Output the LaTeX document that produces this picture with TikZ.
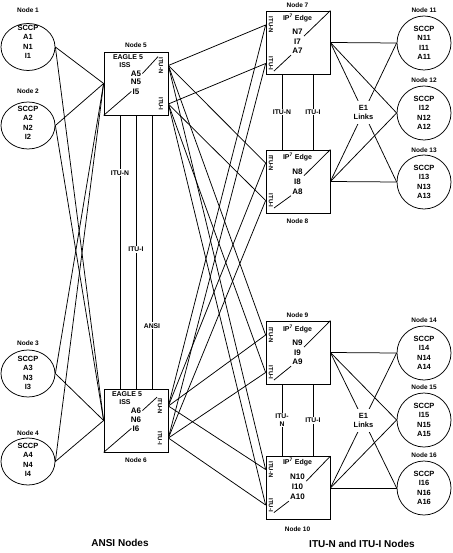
\documentclass[tikz,border=0pt]{standalone}
\usepackage{fontspec}
\setmainfont{Liberation Sans}
\usetikzlibrary{shapes.geometric}

\tikzset{
	sccp/.style={draw, ellipse, minimum width=54pt, minimum height=47pt, inner sep=0pt},
	sccpc/.style={draw, circle, minimum size=54pt, inner sep=0pt, align=center, font=\bfseries\fontsize{7.5}{9.3}\selectfont},
	sccptxt/.style={align=center, inner sep=0pt, font=\bfseries\fontsize{7.5}{9.3}\selectfont},
	nodename/.style={inner sep=0pt, font=\bfseries\fontsize{6.5}{7}\selectfont},
	stp/.style={draw, minimum width=64pt, minimum height=63pt, inner sep=0pt},
	stptxt/.style={inner sep=1pt, font=\bfseries\fontsize{8}{9}\selectfont},
	edgetxt/.style={inner sep=1pt, font=\bfseries\fontsize{7}{8}\selectfont},
	port/.style={rotate=-90, inner sep=0.5pt, font=\bfseries\fontsize{6}{7}\selectfont},
	linklbl/.style={fill=white, inner sep=1pt, align=center, font=\bfseries\fontsize{6.8}{7.5}\selectfont},
	e1lbl/.style={fill=white, inner xsep=1pt, inner ysep=4pt, align=center, font=\bfseries\fontsize{7.5}{9.5}\selectfont},
	groupname/.style={inner sep=0pt, font=\bfseries\fontsize{10}{12}\selectfont},
}

\begin{document}
\begin{tikzpicture}[x=1pt, y=-1pt, line width=0.75pt]
	\useasboundingbox (0,0) rectangle (452,553);

	% ANSI nodes
	\node[nodename] (name1) at (28,10) {Node 1};
	\node[sccp] (n1) at (28,47) {};
	\node[sccptxt] (t1) at (28,42) {SCCP\\A1\\N1\\I1};
	\node[nodename] (name2) at (28,91) {Node 2};
	\node[sccp] (n2) at (28,125.5) {};
	\node[sccptxt] (t2) at (28,123) {SCCP\\A2\\N2\\I2};
	\node[nodename] (name3) at (28,343) {Node 3};
	\node[sccp] (n3) at (28,373.5) {};
	\node[sccptxt] (t3) at (28,373) {SCCP\\A3\\N3\\I3};
	\node[nodename] (name4) at (28,433) {Node 4};
	\node[sccp] (n4) at (28,461.5) {};
	\node[sccptxt] (t4) at (28,460) {SCCP\\A4\\N4\\I4};

	% EAGLE 5 ISS pair
	\node[nodename] (name5) at (136,45.5) {Node 5};
	\node[stp] (n5) at (136,83.5) {};
	\node[edgetxt] (eagle5) at (128,57) {EAGLE 5};
	\node[edgetxt] (iss5) at (125,65.5) {ISS};
	\node[stptxt] (a5) at (136,73.5) {A5};
	\node[stptxt] (nn5) at (136,82) {N5};
	\node[stptxt] (i5) at (136,91.5) {I5};
	\node[port] (itun5) at (161,65.5) {ITU-N};
	\node[port] (itui5) at (161,104) {ITU-I};
	\draw (itun5.south west) -- (a5.east);
	\draw (n5.south west) -- (i5.west);

	\node[nodename] (name6) at (136,460) {Node 6};
	\node[stp] (n6) at (136,420.5) {};
	\node[edgetxt] (eagle6) at (127,394) {EAGLE 5};
	\node[edgetxt] (iss6) at (125,402) {ISS};
	\node[stptxt] (a6) at (136,410.5) {A6};
	\node[stptxt] (nn6) at (136,419.5) {N6};
	\node[stptxt] (i6) at (136,428.5) {I6};
	\node[port] (itun6) at (160,406) {ITU-N};
	\node[port] (itui6) at (160,438) {ITU-I};
	\draw (itun6.south west) -- (a6.east);
	\draw (n6.south west) -- (i6.west);

	% IP7 edge nodes
	\node[nodename] (name7) at (297.5,5) {Node 7};
	\node[stp] (n7) at (298,42.5) {};
	\node[edgetxt] (ip7) at (297.5,18) {IP\textsuperscript{7} Edge};
	\node[stptxt] (nn7) at (297.5,32) {N7};
	\node[stptxt] (i7) at (297.5,41.5) {I7};
	\node[stptxt] (a7) at (297.5,51) {A7};
	\node[port] (itun7) at (271,25) {ITU-N};
	\node[port] (itui7) at (271,63.5) {ITU-I};
	\draw (n7.north east) -- (nn7.south east);
	\draw (itui7.north east) -- (a7.south west);

	\node[nodename] (name8) at (297.5,221.5) {Node 8};
	\node[stp] (n8) at (298,181.5) {};
	\node[edgetxt] (ip8) at (297.5,157) {IP\textsuperscript{7} Edge};
	\node[stptxt] (nn8) at (297.5,171.5) {N8};
	\node[stptxt] (i8) at (297.5,181.5) {I8};
	\node[stptxt] (a8) at (297.5,191.5) {A8};
	\node[port] (itun8) at (271,163) {ITU-N};
	\node[port] (itui8) at (271,200.5) {ITU-I};
	\draw (n8.north east) -- (nn8.south east);
	\draw (itui8.north east) -- (a8.south west);

	\node[nodename] (name9) at (297.5,315) {Node 9};
	\node[stp] (n9) at (298,352.5) {};
	\node[edgetxt] (ip9) at (297.5,329) {IP\textsuperscript{7} Edge};
	\node[stptxt] (nn9) at (297.5,343) {N9};
	\node[stptxt] (i9) at (297.5,352.5) {I9};
	\node[stptxt] (a9) at (297.5,362) {A9};
	\node[port] (itun9) at (271,335) {ITU-N};
	\node[port] (itui9) at (271,372.5) {ITU-I};
	\draw (n9.north east) -- (nn9.south east);
	\draw (itui9.north east) -- (a9.south west);

	\node[nodename] (name10) at (297.5,529) {Node 10};
	\node[stp] (n10) at (298,488) {};
	\node[edgetxt] (ip10) at (297.5,462.5) {IP\textsuperscript{7} Edge};
	\node[stptxt] (nn10) at (297.5,477) {N10};
	\node[stptxt] (i10) at (297.5,487) {I10};
	\node[stptxt] (a10) at (297.5,497) {A10};
	\node[port] (itun10) at (271,469.5) {ITU-N};
	\node[port] (itui10) at (271,505) {ITU-I};
	\draw (n10.north east) -- (nn10.south east);
	\draw (itui10.north east) -- (a10.south west);

	% ITU SCCP nodes
	\node[nodename] (name11) at (424,10.5) {Node 11};
	\node[sccpc] (n11) at (424,43) {SCCP\\N11\\I11\\A11};
	\node[nodename] (name12) at (424,80) {Node 12};
	\node[sccpc] (n12) at (424,113) {SCCP\\I12\\N12\\A12};
	\node[nodename] (name13) at (424,150.5) {Node 13};
	\node[sccpc] (n13) at (424,182) {SCCP\\I13\\N13\\A13};
	\node[nodename] (name14) at (424,320.5) {Node 14};
	\node[sccpc] (n14) at (424,353) {SCCP\\I14\\N14\\A14};
	\node[nodename] (name15) at (424,387) {Node 15};
	\node[sccpc] (n15) at (424,420) {SCCP\\I15\\N15\\A15};
	\node[nodename] (name16) at (424,455.5) {Node 16};
	\node[sccpc] (n16) at (424,488) {SCCP\\I16\\N16\\A16};

	% ANSI links
	\path [-] (n1.east) edge (n5.west);
	\path [-] (n2.east) edge (n5.west);
	\path [-] (n3.east) edge (n5.west);
	\path [-] (n4.east) edge (n5.west);
	\path [-] (n1.east) edge (n6.west);
	\path [-] (n2.east) edge (n6.west);
	\path [-] (n3.east) edge (n6.west);
	\path [-] (n4.east) edge (n6.west);

	\path [-] ([xshift=-16pt]n5.south) edge node[linklbl, pos=0.21] (l56n) {ITU-N} ([xshift=-16pt]n6.north);
	\path [-] (n5.south) edge node[linklbl, pos=0.49] (l56i) {ITU-I} (n6.north);
	\path [-] ([xshift=16pt]n5.south) edge node[linklbl, pos=0.77] (l56a) {ANSI} ([xshift=16pt]n6.north);

	% ITU-N links
	\path [-] (n5.east |- itun5) edge (n7.west |- itun7);
	\path [-] (n5.east |- itun5) edge (n8.west |- itun8);
	\path [-] (n5.east |- itun5) edge (n9.west |- itun9);
	\path [-] (n5.east |- itun5) edge (n10.west |- itun10);
	\path [-] (n6.east |- itun6) edge (n7.west |- itun7);
	\path [-] (n6.east |- itun6) edge (n8.west |- itun8);
	\path [-] (n6.east |- itun6) edge (n9.west |- itun9);
	\path [-] (n6.east |- itun6) edge (n10.west |- itun10);

	% ITU-I links
	\path [-] (n5.east |- itui5) edge (n7.west |- itui7);
	\path [-] (n5.east |- itui5) edge (n8.west |- itui8);
	\path [-] (n5.east |- itui5) edge (n9.west |- itui9);
	\path [-] (n5.east |- itui5) edge (n10.west |- itui10);
	\path [-] (n6.east |- itui6) edge (n7.west |- itui7);
	\path [-] (n6.east |- itui6) edge (n8.west |- itui8);
	\path [-] (n6.east |- itui6) edge (n9.west |- itui9);
	\path [-] (n6.east |- itui6) edge (n10.west |- itui10);

	\path [-] ([xshift=-16pt]n7.south) edge node[linklbl] (l78n) {ITU-N} ([xshift=-16pt]n8.north);
	\path [-] ([xshift=15pt]n7.south) edge node[linklbl] (l78i) {ITU-I} ([xshift=15pt]n8.north);
	\path [-] ([xshift=-16pt]n9.south) edge node[linklbl] (l910n) {ITU-\\N} ([xshift=-16pt]n10.north);
	\path [-] ([xshift=15pt]n9.south) edge node[linklbl] (l910i) {ITU-I} ([xshift=15pt]n10.north);

	% E1 links
	\path [-] (n7.east) edge (n11.west);
	\path [-] (n7.east) edge (n12.west);
	\path [-] (n8.east) edge (n11.west);
	\path [-] (n8.east) edge (n12.west);
	\path [-] (n8.east) edge (n13.west);
	\path [-] (n7.east) edge node[e1lbl] (e1top) {E1\\Links} (n13.west);

	\path [-] (n9.east) edge (n14.west);
	\path [-] (n9.east) edge (n15.west);
	\path [-] (n10.east) edge (n14.west);
	\path [-] (n10.east) edge (n15.west);
	\path [-] (n10.east) edge (n16.west);
	\path [-] (n9.east) edge node[e1lbl] (e1bot) {E1\\Links} (n16.west);

	\node[groupname] (ansi) at (120,543) {ANSI Nodes};
	\node[groupname] (itu) at (362,544) {ITU-N and ITU-I Nodes};
\end{tikzpicture}
\end{document}
